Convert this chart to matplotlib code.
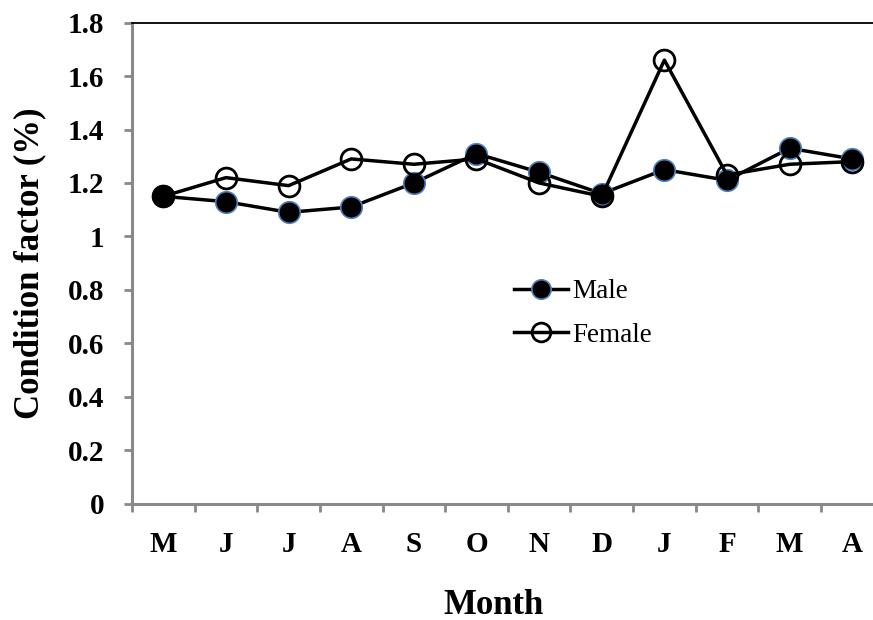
import matplotlib
matplotlib.use("Agg")
import matplotlib.pyplot as plt
import numpy as np

months = ["M", "J", "J", "A", "S", "O", "N", "D", "J", "F", "M", "A"]
male = [1.15, 1.13, 1.09, 1.11, 1.20, 1.31, 1.24, 1.16, 1.25, 1.21, 1.33, 1.29]
female = [1.15, 1.22, 1.19, 1.29, 1.27, 1.29, 1.20, 1.15, 1.66, 1.23, 1.27, 1.28]
yticks = [0, 0.2, 0.4, 0.6, 0.8, 1, 1.2, 1.4, 1.6, 1.8]
ytick_labels = ["0", "0.2", "0.4", "0.6", "0.8", "1", "1.2", "1.4", "1.6", "1.8"]

plt.rcParams['font.family'] = ['Liberation Serif', 'DejaVu Serif']

fig = plt.figure(figsize=(8.73, 6.2), dpi=100)
# axes runs past the right edge of the picture, as in the original crop
ax = fig.add_axes([132 / 873, 1 - 503.5 / 620, 751.6 / 873, 480.8 / 620])

x = np.arange(len(months))
ax.plot(x, male, color='black', lw=2.5, marker='o', ms=15.5,
        mfc='black', mec='#4F81BD', mew=1.2, label='Male', zorder=3)
ax.plot(x, female, color='black', lw=2.5, marker='o', ms=15,
        mfc='none', mec='black', mew=2.0, label='Female', zorder=4)

ax.set_xlim(-0.5, 11.5)
ax.set_ylim(0, 1.8)

grey = '#898989'
ax.set_xticks(x)
ax.set_xticklabels(months, fontsize=21, fontweight='bold')
ax.set_xticks(np.arange(-0.5, 11.6, 1), minor=True)
ax.tick_params(axis='x', which='major', length=0, pad=20)
ax.tick_params(axis='x', which='minor', length=6, width=2, color=grey, direction='out')

ax.set_yticks(yticks)
ax.set_yticklabels(ytick_labels, fontsize=21, fontweight='bold')
ax.tick_params(axis='y', length=6, width=2, color=grey, direction='out', pad=14)

for side in ['left', 'bottom']:
    ax.spines[side].set_color(grey)
    ax.spines[side].set_linewidth(2.2)
ax.spines['top'].set_color('black')
ax.spines['top'].set_linewidth(1.3)
ax.spines['right'].set_visible(False)

leg = ax.legend(loc='upper left',
                bbox_to_anchor=(514 / 873, 1 - 279 / 620), bbox_transform=fig.transFigure,
                frameon=False, fontsize=19.5, handlelength=2.0, handletextpad=0.15,
                borderpad=0, borderaxespad=0, labelspacing=0.7, markerscale=0.9)

fig.text(30 / 873, 1 - 263 / 620, "Condition factor (%)", rotation=90,
         ha='center', va='center', fontsize=25, fontweight='bold')
fig.text(493 / 873, 1 - 605 / 620, "Month", ha='center', va='center',
         fontsize=25, fontweight='bold')

fig.savefig("out.png", dpi=100)
